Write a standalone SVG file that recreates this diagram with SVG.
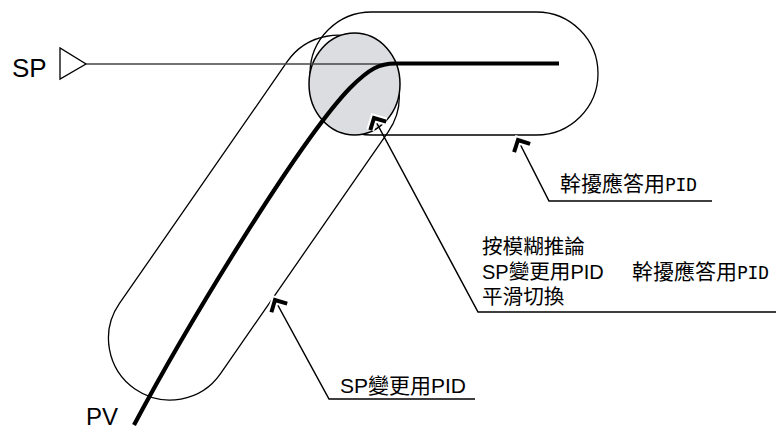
<svg xmlns="http://www.w3.org/2000/svg" width="776" height="430" viewBox="0 0 776 430">
<style>
.outline{fill:none;stroke:#000;stroke-width:1.3}
.call{fill:none;stroke:#000;stroke-width:1.5}
.halo{fill:none;stroke:#fff;stroke-width:8;stroke-linejoin:miter}
.head{fill:none;stroke:#000;stroke-width:4;stroke-linejoin:miter}
.lat{font-family:"Liberation Sans",Arial,sans-serif;fill:#000}
.cjk{font-family:"Noto Sans CJK TC","Noto Sans CJK SC",sans-serif;fill:#000}
.mono{font-family:"DejaVu Sans Mono","Liberation Mono",monospace;fill:#000}
</style>
<rect width="776" height="430" fill="#fff"/>
<g id="disturbance-region">
<rect class="outline" x="310" y="12" width="288" height="123" rx="61.5" ry="61.5"/>
</g>
<g id="sp-change-region">
<rect class="outline" x="-61.5" y="-61.5" width="417.2" height="123" rx="61.5" ry="61.5" transform="translate(170,338.5) rotate(-55.25)"/>
</g>
<g id="blend-zone">
<ellipse cx="354.5" cy="84" rx="45.5" ry="51" fill="#dcdde0" stroke="#000" stroke-width="1.5"/>
</g>
<g id="sp-input">
<text class="lat" x="12" y="77" font-size="26">SP</text>
<polygon points="60,48 60,79 86,64" fill="#fff" stroke="#000" stroke-width="1.3"/>
</g>
<g id="connectors">
<line x1="86" y1="64" x2="395" y2="64" stroke="#444" stroke-width="1.3"/>
<path d="M134,425 C190,320 300,140 350,88 C370,68 380,63.5 395,63.5 L559,63.5" fill="none" stroke="#000" stroke-width="4.2"/>
<path class="call" d="M518,140 L549,201 L712,201"/>
<path class="call" d="M374,118 L478,312 L776,312"/>
<path class="call" d="M275,300 L329,399 L475,399"/>
<path class="halo" d="M514.1,152.1 L518,140 L530.1,143.9"/>
<path class="head" d="M514.1,152.1 L518,140 L530.1,143.9"/>
<path class="halo" d="M370.3,130.2 L374,118 L386.2,121.7"/>
<path class="head" d="M370.3,130.2 L374,118 L386.2,121.7"/>
<path class="halo" d="M271.4,312.2 L275,300 L287.2,303.6"/>
<path class="head" d="M271.4,312.2 L275,300 L287.2,303.6"/>
</g>
<g id="pv-label">
<text class="lat" x="86" y="425" font-size="24">PV</text>
</g>
<g id="label-disturbance">
<text x="560" y="191"><tspan class="cjk" font-size="21">幹擾應答用</tspan><tspan class="mono" font-size="18" textLength="32">PID</tspan></text>
</g>
<g id="label-blend">
<text class="cjk" x="482" y="254" font-size="20.6">按模糊推論</text>
<text x="482" y="279"><tspan class="lat" font-size="20">SP</tspan><tspan class="cjk" font-size="20.6">變更用</tspan><tspan class="lat" font-size="20">PID</tspan></text>
<text x="632" y="279"><tspan class="cjk" font-size="21">幹擾應答用</tspan><tspan class="mono" font-size="18" textLength="32">PID</tspan></text>
<text class="cjk" x="482" y="304" font-size="20.6">平滑切換</text>
</g>
<g id="label-sp-change">
<text x="340" y="393"><tspan class="lat" font-size="21">SP</tspan><tspan class="cjk" font-size="21">變更用</tspan><tspan class="lat" font-size="21">PID</tspan></text>
</g>
</svg>
